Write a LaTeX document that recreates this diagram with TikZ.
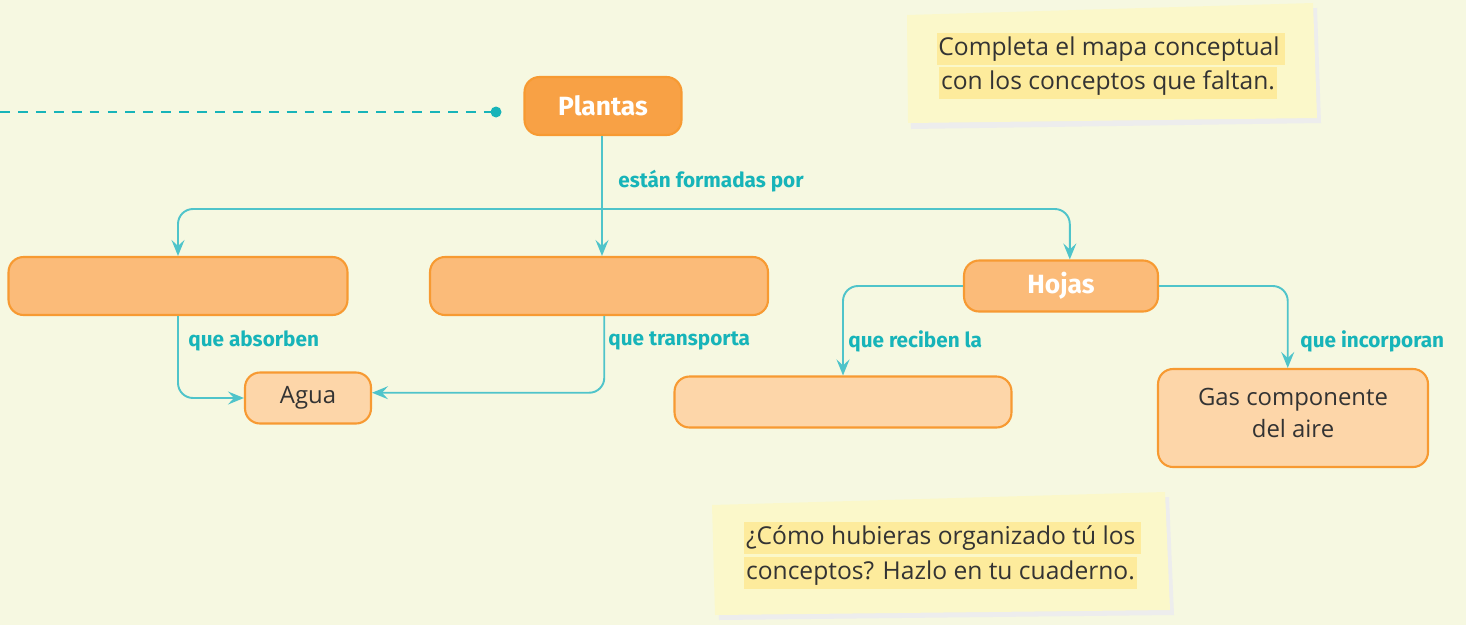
\documentclass[tikz,border=0pt]{standalone}
\usepackage{fontspec}
\setmainfont{Open Sans}
\newfontfamily\handfont{Fira Sans}
\usetikzlibrary{positioning, arrows.meta, calc}
\definecolor{paper}{HTML}{F6F8E1}
\definecolor{note}{HTML}{FBF8CA}
\definecolor{marker}{HTML}{FDEB9C}
\definecolor{orangeA}{HTML}{F8A145}
\definecolor{orangeB}{HTML}{FBBB79}
\definecolor{orangeC}{HTML}{FDD6A9}
\definecolor{rim}{HTML}{F79A32}
\definecolor{tealline}{HTML}{4FC4CA}
\definecolor{tealtext}{HTML}{17B4B9}
\definecolor{ink}{HTML}{333333}

\begin{document}
\begin{tikzpicture}[
  x=0.02cm, y=-0.02cm,
  concept/.style={draw=rim, line width=1.2pt, rounded corners=0.3cm,
                  minimum height=1.16cm, align=center, inner sep=0pt},
  title/.style={concept, text=white, font=\handfont\bfseries\fontsize{15}{18}\selectfont},
  leaf/.style={concept, fill=orangeC, text=ink, font=\fontsize{13.6}{17}\selectfont},
  ar/.style={-{Stealth[length=3.2mm, width=2.6mm, inset=1.2mm]}, line width=1.1pt,
             tealline, rounded corners=0.3cm},
  lbl/.style={anchor=west, text=tealtext, inner sep=0pt,
              font=\handfont\bfseries\fontsize{11.8}{14}\selectfont},
  hilite/.style={fill=marker, text=ink, inner xsep=1pt, inner ysep=2pt,
               font=\fontsize{14}{17}\selectfont},
]
  \useasboundingbox (0,0) rectangle (1466,625);
  \fill[paper] (0,0) rectangle (1466,625);

  % sticky notes
  \fill[black!7] (910,20) -- (1317,8) -- (1321,123) -- (911,129) -- cycle;
  \fill[note] (907,15) -- (1313,3) -- (1317,118) -- (908,123) -- cycle;
  \fill[black!7] (716,510) -- (1169,497) -- (1174,615) -- (719,620) -- cycle;
  \fill[note] (712,505) -- (1165,492) -- (1170,610) -- (715,615) -- cycle;

  \node[hilite] (hintA) at (1111,49) {Completa el mapa conceptual\,};
  \node[hilite] (hintB) at (1108,83) {con los conceptos que faltan.};
  \node[hilite, anchor=west] (askA) at (744,538) {¿Cómo hubieras organizado tú los\,};
  \node[hilite, anchor=west] (askB) at (744,573) {conceptos? Hazlo en tu cuaderno.};

  % concept boxes
  \node[title, fill=orangeA, minimum width=3.14cm] (plantas) at (603,106) {Plantas};
  \node[concept, fill=orangeB, minimum width=6.78cm] (boxa) at (178,286) {};
  \node[concept, fill=orangeB, minimum width=6.76cm] (boxb) at (599,286) {};
  \node[title, fill=orangeB, minimum width=3.88cm, minimum height=1.02cm] (hojas) at (1061,286) {Hojas};
  \node[leaf, minimum width=2.52cm, minimum height=1.02cm] (agua) at (308,398) {Agua};
  \node[leaf, minimum width=6.74cm, minimum height=1.02cm] (blank) at (843,402) {};
  \node[leaf, minimum width=5.4cm, minimum height=1.96cm] (gas) at (1293,418) {};
  \node[font=\fontsize{13.6}{17}\selectfont, text=ink, align=center] (gastext) at (1293,413)
    {Gas componente\\[1pt]del aire};

  % dashed lead-in
  \coordinate (dot) at (496,112);
  \draw[tealtext, line width=1.6pt, dash pattern=on 5.6pt off 4.6pt] (0,112) -- (dot);
  \fill[tealtext] (dot) circle (5.5);

  % connectors
  \coordinate (split) at (602,209);
  \draw[ar] (plantas.south -| split) -- (split |- boxb.north);
  \draw[ar] (split) -| (boxa.north);
  \draw[ar] (split) -| ([xshift=5]hojas.north);
  \draw[ar] (boxa.south) |- (agua.west);
  \draw[ar] ([xshift=3]boxb.south) |- ([yshift=3]agua.east);
  \draw[ar] (hojas.west) -| (blank.north);
  \draw[ar] (hojas.east) -| ([xshift=-3]gas.north);

  % link labels
  \node[lbl] (formadas) at (618,181) {están formadas por};
  \node[lbl] (absorben) at (188,341) {que absorben};
  \node[lbl] (transporta) at (608,341) {que transporta};
  \node[lbl] (reciben) at (848,341) {que reciben la};
  \node[lbl] (incorporan) at (1300,341) {que incorporan};
\end{tikzpicture}
\end{document}
